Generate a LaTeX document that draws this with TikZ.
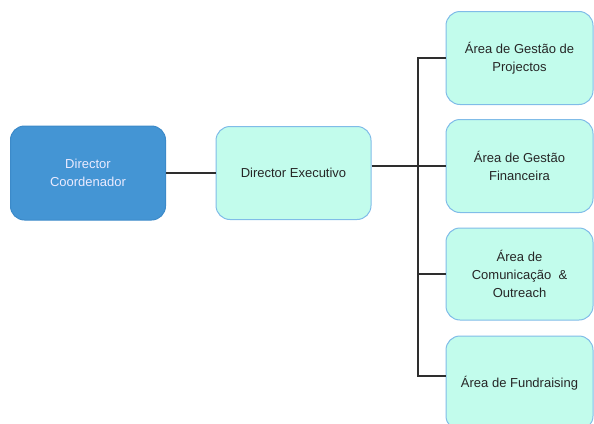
\documentclass[tikz,border=0pt]{standalone}
\usepackage{fontspec}
\setmainfont{Liberation Sans}
\definecolor{dcfill}{HTML}{4495D4}
\definecolor{dcline}{HTML}{3C8AC9}
\definecolor{mint}{HTML}{C2FCEC}
\definecolor{mintline}{HTML}{80BCE8}
\definecolor{conncol}{HTML}{2E2E2E}
\tikzset{
  box/.style={rounded corners=14pt, minimum width=147pt, minimum height=93pt,
    align=center, font=\fontsize{13pt}{18pt}\selectfont, inner sep=0pt, line width=1pt},
  dcbox/.style={box, fill=dcfill, draw=dcline, text=white!92!blue, minimum width=155pt, minimum height=94pt},
  areabox/.style={box, fill=mint, draw=mintline, text=black!85},
  conn/.style={draw=conncol, line width=1.3pt}
}
\begin{document}
\begin{tikzpicture}[x=1pt,y=-1pt]
\useasboundingbox (0,0) rectangle (594,423);
\clip (0,0) rectangle (594,423);
\node[dcbox] (dc) at (88,173) {Director\\Coordenador};
\node[areabox, minimum width=155pt] (de) at (293.5,173) {Director Executivo};
\node[areabox] (b1) at (519.5,58) {Área de Gestão de\\Projectos};
\node[areabox] (b2) at (519.5,166) {Área de Gestão\\Financeira};
\node[areabox, minimum height=92pt] (b3) at (519.5,274) {Área de\\Comunicação\ \ \&\\Outreach};
\node[areabox, minimum height=94pt] (b4) at (519.5,383) {Área de Fundraising};
\coordinate (bx) at (418,0);
\coordinate (b4in) at (446,376);
\draw[conn] (dc.east) -- (de.west);
\draw[conn] (de.east |- b2.west) -- (b2.west);
\draw[conn] (b1.west) -- (b1.west -| bx) -- (bx |- b4in) -- (b4in);
\draw[conn] (b3.west -| bx) -- (b3.west);
\end{tikzpicture}
\end{document}
